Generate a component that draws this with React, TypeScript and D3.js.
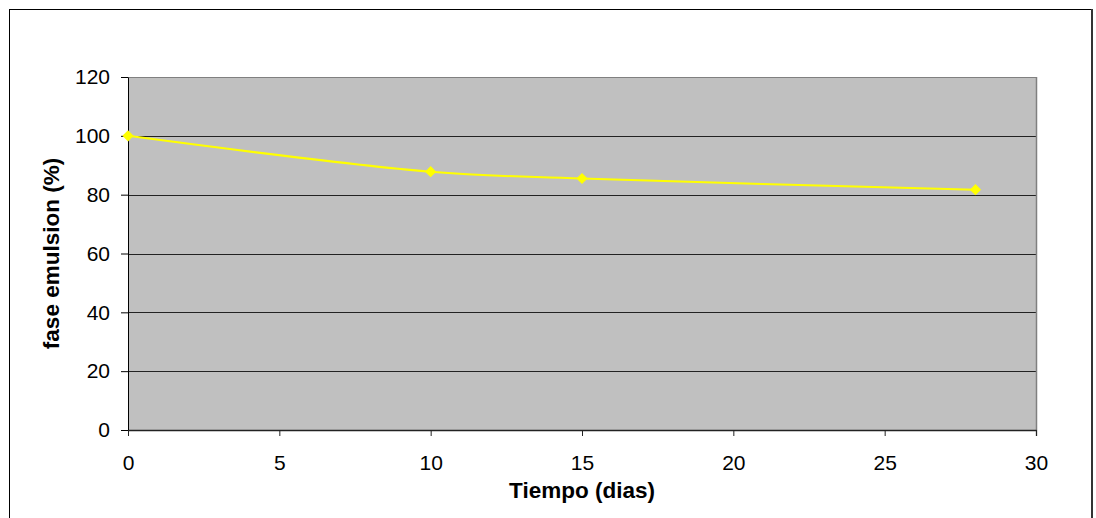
import React, { useEffect, useRef } from 'react';
import * as d3 from 'd3';

// tiempo (dias) vs fase emulsion (%)
const dias = [0, 10, 15, 28];
const emulsion = [100, 87.8, 85.5, 81.7];
const yTicks = [0, 20, 40, 60, 80, 100, 120];
const xTicks = [0, 5, 10, 15, 20, 25, 30];

const W = 1096;
const H = 518;

export default function App() {
  const svgRef = useRef<SVGSVGElement>(null);

  useEffect(() => {
    if (!svgRef.current) return;
    const svg = d3.select(svgRef.current);
    svg.selectAll('*').remove();

    const margin = { top: 77, right: 60, bottom: 88, left: 128 };
    const plotW = W - margin.left - margin.right;
    const plotH = H - margin.top - margin.bottom;
    const font = 'Liberation Sans, Arial, sans-serif';

    // outer frame
    svg.append('rect')
      .attr('x', 9.5).attr('y', 9.5)
      .attr('width', 1082).attr('height', 540)
      .attr('fill', '#fff').attr('stroke', '#000').attr('stroke-width', 1);
    svg.append('line')
      .attr('x1', 1092).attr('x2', 1092).attr('y1', 9).attr('y2', H)
      .attr('stroke', '#333').attr('stroke-width', 2);

    const x = d3.scaleLinear().domain([0, 30]).range([0, plotW]);
    const y = d3.scaleLinear().domain([0, 120]).range([plotH, 0]);

    const g = svg.append('g').attr('transform', `translate(${margin.left},${margin.top})`);

    g.append('rect')
      .attr('width', plotW).attr('height', plotH)
      .attr('fill', '#c0c0c0');

    // gridlines
    g.selectAll('.grid')
      .data(yTicks.filter(t => t > 0 && t < 120))
      .enter().append('line')
      .attr('x1', 0).attr('x2', plotW)
      .attr('y1', d => Math.round(y(d)) + 0.5).attr('y2', d => Math.round(y(d)) + 0.5)
      .attr('stroke', '#222').attr('stroke-width', 1);

    // plot border right / top (gray)
    g.append('line')
      .attr('x1', plotW + 0.5).attr('x2', plotW + 0.5).attr('y1', 0).attr('y2', plotH + 6)
      .attr('stroke', '#808080').attr('stroke-width', 1.5);
    g.append('line')
      .attr('x1', 0).attr('x2', plotW).attr('y1', 0.5).attr('y2', 0.5)
      .attr('stroke', '#808080').attr('stroke-width', 1);

    // y axis
    const yAxis = g.append('g').call(
      d3.axisLeft(y).tickValues(yTicks).tickSize(7).tickPadding(11).tickSizeOuter(0)
    );
    yAxis.select('.domain').attr('stroke', '#000');
    yAxis.selectAll('line').attr('stroke', '#000');
    yAxis.selectAll('text')
      .attr('font-family', font).attr('font-size', 21).attr('fill', '#000');

    // x axis
    const xAxis = g.append('g').attr('transform', `translate(0,${plotH})`).call(
      d3.axisBottom(x).tickValues(xTicks).tickSize(6).tickPadding(19).tickSizeOuter(0)
    );
    xAxis.select('.domain').attr('stroke', '#222').attr('stroke-width', 1.5);
    xAxis.selectAll('line').attr('stroke', '#222');
    xAxis.selectAll('text')
      .attr('font-family', font).attr('font-size', 21).attr('fill', '#000');

    // line
    const pts = dias.map((d, i) => [d, emulsion[i]] as [number, number]);
    const line = d3.line<[number, number]>()
      .x(d => x(d[0])).y(d => y(d[1]))
      .curve(d3.curveCatmullRom.alpha(0.5));
    g.append('path')
      .datum(pts)
      .attr('d', line)
      .attr('fill', 'none')
      .attr('stroke', '#ffff00')
      .attr('stroke-width', 2);

    // diamond markers
    const sym = d3.symbol().type(d3.symbolDiamond2).size(80);
    g.selectAll('.mk')
      .data(pts)
      .enter().append('path')
      .attr('d', sym)
      .attr('transform', d => `translate(${x(d[0])},${y(d[1])})`)
      .attr('fill', '#ffff00');

    // axis titles
    svg.append('text')
      .attr('x', margin.left + plotW / 2).attr('y', 498)
      .attr('text-anchor', 'middle')
      .attr('font-family', font).attr('font-size', 22.5).attr('font-weight', 'bold')
      .text('Tiempo (dias)');
    svg.append('text')
      .attr('transform', `translate(59,${margin.top + plotH / 2}) rotate(-90)`)
      .attr('text-anchor', 'middle')
      .attr('font-family', font).attr('font-size', 22.5).attr('font-weight', 'bold')
      .text('fase emulsion (%)');
  }, []);

  return (
    <svg
      ref={svgRef}
      width={W}
      height={H}
      style={{ position: 'fixed', left: 0, top: 0, background: '#fff' }}
    />
  );
}
